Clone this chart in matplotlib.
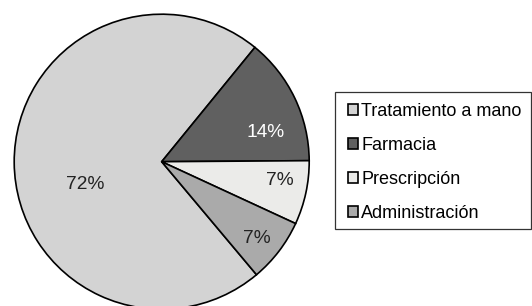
import numpy as np
import matplotlib.pyplot as plt
from matplotlib.patches import Rectangle

plt.rcParams['font.family'] = ['Liberation Sans', 'DejaVu Sans']

# data
labels = ['Tratamiento a mano', 'Farmacia', 'Prescripción', 'Administración']
values = [72, 14, 7, 7]
colors = ['#d3d3d3', '#606060', '#ebebe9', '#aaaaaa']
pct_colors = ['#222222', 'white', '#222222', '#222222']

# label placement (radius fraction, angle shift in degrees)
label_r = [0.54, 0.73, 0.81, 0.83]
label_shift = [16, -10, 3, -1.5]

W, H = 532, 306
fig = plt.figure(figsize=(W / 100, H / 100), dpi=100)
cx, cy, r = 161.7, 161.7, 147.5
ax = fig.add_axes([(cx - r) / W, (H - cy - r) / H, 2 * r / W, 2 * r / H])

wedges, _ = ax.pie(values, colors=colors, startangle=-50, counterclock=False,
                   wedgeprops=dict(edgecolor='black', linewidth=1.2))
ax.set_xlim(-1, 1)
ax.set_ylim(-1, 1)
ax.axis('off')

total = sum(values)
for w, v, rr, sh, c in zip(wedges, values, label_r, label_shift, pct_colors):
    mid = np.deg2rad((w.theta1 + w.theta2) / 2 + sh)
    ax.text(rr * np.cos(mid), rr * np.sin(mid), f'{round(100 * v / total)}%',
            ha='center', va='center', fontsize=13.8, color=c)

leg = fig.legend(wedges, labels, loc='upper left',
                 bbox_to_anchor=(335 / W, 1 - 90 / H), borderaxespad=0,
                 fontsize=13, frameon=False,
                 handlelength=0.55, handleheight=0.55, handletextpad=0.2,
                 labelspacing=0.95, borderpad=0.7)
for h in leg.legend_handles:
    h.set_linewidth(1.2)

# legend box
fig.add_artist(Rectangle((335 / W, 1 - 229 / H), 196 / W, 137 / H,
                         transform=fig.transFigure, fill=False,
                         edgecolor='#333333', linewidth=0.9))

fig.savefig('out.png', dpi=100)
